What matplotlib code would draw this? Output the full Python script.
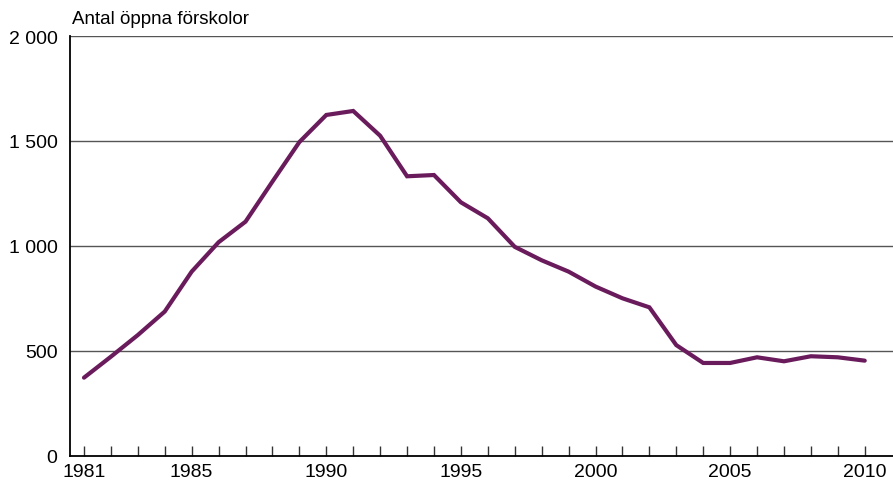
import numpy as np
import matplotlib
matplotlib.use('Agg')
import matplotlib.pyplot as plt

# Antal öppna förskolor per år
years = list(range(1981, 2011))
counts = [373, 473, 576, 688, 878, 1018, 1116, 1307, 1495, 1624,
          1643, 1525, 1332, 1338, 1208, 1132, 996, 932, 878, 807,
          751, 708, 528, 443, 443, 470, 451, 475, 470, 454]

ytick_values = [0, 500, 1000, 1500, 2000]
ytick_labels = ['0', '500', '1 000', '1 500', '2 000']
xtick_labels_shown = [1981, 1985, 1990, 1995, 2000, 2005, 2010]
ylabel = 'Antal öppna förskolor'

plt.rcParams['font.family'] = ['Liberation Sans', 'DejaVu Sans']

fig = plt.figure(figsize=(8.93, 4.89), dpi=100)
ax = fig.add_axes([70 / 893, 32 / 489, 823 / 893, 420 / 489])

for v in ytick_values[1:]:
    ax.axhline(v, color='#555555', linewidth=1.0, zorder=1)

ax.plot(years, counts, color='#6a1b5c', linewidth=3.0, solid_capstyle='round',
        solid_joinstyle='miter', zorder=3)

ax.set_xlim(1980.48, 2011.05)
ax.set_ylim(0, 2000)

ax.set_xticks(years)
ax.set_xticklabels([str(y) if y in xtick_labels_shown else '' for y in years])
ax.set_yticks(ytick_values)
ax.set_yticklabels(ytick_labels)

ax.tick_params(axis='x', direction='in', length=7, width=1, color='#333333',
               labelsize=14, pad=5)
ax.tick_params(axis='y', length=0, labelsize=14, pad=9)

for side in ['top', 'right']:
    ax.spines[side].set_visible(False)
for side in ['left', 'bottom']:
    ax.spines[side].set_linewidth(1.3)
    ax.spines[side].set_color('black')

fig.text(72 / 893, 1 - 20 / 489, ylabel, fontsize=13.5, va='center', ha='left')

fig.savefig('out.png', dpi=100)
